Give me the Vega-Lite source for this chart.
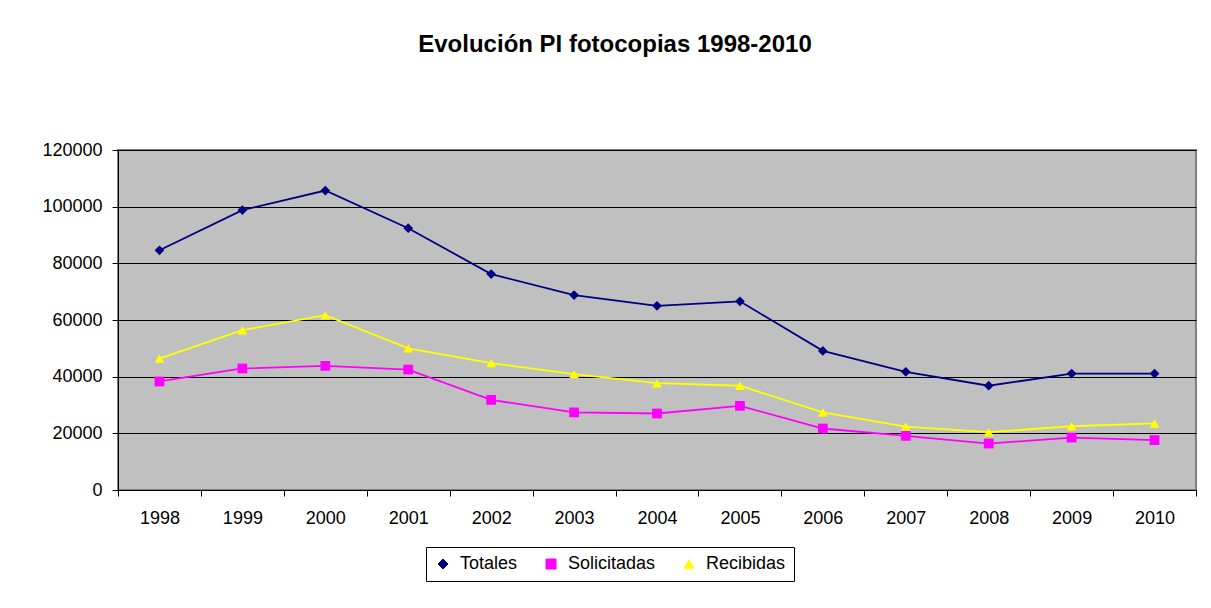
{
  "$schema": "https://vega.github.io/schema/vega-lite/v6.json",
  "width": 1078,
  "height": 340,
  "autosize": {"type": "none"},
  "padding": {"left": 118, "top": 150, "right": 15, "bottom": 118},
  "background": "white",
  "title": {
    "text": "Evolución PI fotocopias 1998-2010",
    "font": "Liberation Sans",
    "fontSize": 24,
    "fontWeight": "bold",
    "color": "black",
    "anchor": "middle",
    "baseline": "alphabetic",
    "dx": -42,
    "offset": 65
  },
  "config": {
    "view": {"fill": "#C0C0C0", "stroke": "#808080", "strokeWidth": 2},
    "font": "Liberation Sans"
  },
  "data": {
    "values": [
      {"year": "1998", "serie": "Totales", "valor": 84600},
      {"year": "1999", "serie": "Totales", "valor": 98800},
      {"year": "2000", "serie": "Totales", "valor": 105700},
      {"year": "2001", "serie": "Totales", "valor": 92400},
      {"year": "2002", "serie": "Totales", "valor": 76200},
      {"year": "2003", "serie": "Totales", "valor": 68800},
      {"year": "2004", "serie": "Totales", "valor": 65000},
      {"year": "2005", "serie": "Totales", "valor": 66600},
      {"year": "2006", "serie": "Totales", "valor": 49100},
      {"year": "2007", "serie": "Totales", "valor": 41700},
      {"year": "2008", "serie": "Totales", "valor": 36800},
      {"year": "2009", "serie": "Totales", "valor": 41100},
      {"year": "2010", "serie": "Totales", "valor": 41100},
      {"year": "1998", "serie": "Solicitadas", "valor": 38300},
      {"year": "1999", "serie": "Solicitadas", "valor": 42900},
      {"year": "2000", "serie": "Solicitadas", "valor": 43800},
      {"year": "2001", "serie": "Solicitadas", "valor": 42500},
      {"year": "2002", "serie": "Solicitadas", "valor": 31800},
      {"year": "2003", "serie": "Solicitadas", "valor": 27400},
      {"year": "2004", "serie": "Solicitadas", "valor": 27000},
      {"year": "2005", "serie": "Solicitadas", "valor": 29700},
      {"year": "2006", "serie": "Solicitadas", "valor": 21700},
      {"year": "2007", "serie": "Solicitadas", "valor": 19100},
      {"year": "2008", "serie": "Solicitadas", "valor": 16400},
      {"year": "2009", "serie": "Solicitadas", "valor": 18500},
      {"year": "2010", "serie": "Solicitadas", "valor": 17600},
      {"year": "1998", "serie": "Recibidas", "valor": 46400},
      {"year": "1999", "serie": "Recibidas", "valor": 56400},
      {"year": "2000", "serie": "Recibidas", "valor": 61700},
      {"year": "2001", "serie": "Recibidas", "valor": 50000},
      {"year": "2002", "serie": "Recibidas", "valor": 44800},
      {"year": "2003", "serie": "Recibidas", "valor": 40900},
      {"year": "2004", "serie": "Recibidas", "valor": 37700},
      {"year": "2005", "serie": "Recibidas", "valor": 36800},
      {"year": "2006", "serie": "Recibidas", "valor": 27400},
      {"year": "2007", "serie": "Recibidas", "valor": 22400},
      {"year": "2008", "serie": "Recibidas", "valor": 20400},
      {"year": "2009", "serie": "Recibidas", "valor": 22500},
      {"year": "2010", "serie": "Recibidas", "valor": 23500}
    ]
  },
  "encoding": {
    "x": {
      "field": "year",
      "type": "ordinal",
      "scale": {"type": "band", "paddingInner": 0, "paddingOuter": 0},
      "axis": {
        "title": null,
        "labelAngle": 0,
        "tickBand": "extent",
        "tickSize": 6,
        "labelFontSize": 18,
        "labelColor": "black",
        "labelPadding": 13,
        "domainColor": "black",
        "tickColor": "black",
        "grid": false
      }
    },
    "y": {
      "field": "valor",
      "type": "quantitative",
      "scale": {"domain": [0, 120000], "nice": false},
      "axis": {
        "title": null,
        "values": [0, 20000, 40000, 60000, 80000, 100000, 120000],
        "format": "d",
        "labelFontSize": 18,
        "labelColor": "black",
        "labelPadding": 10,
        "labelFlush": false,
        "labelOverlap": false,
        "tickSize": 6,
        "tickColor": "black",
        "domainColor": "black",
        "gridColor": "black",
        "gridOpacity": 1,
        "gridWidth": 1
      }
    },
    "color": {
      "field": "serie",
      "type": "nominal",
      "sort": ["Totales", "Solicitadas", "Recibidas"],
      "scale": {"domain": ["Totales", "Solicitadas", "Recibidas"], "range": ["#000080", "#FF00FF", "#FFFF00"]},
      "legend": {
        "title": null,
        "orient": "none",
        "legendX": 308,
        "legendY": 397,
        "direction": "horizontal",
        "strokeColor": "black",
        "fillColor": "white",
        "padding": 8,
        "symbolSize": 100,
        "labelFontSize": 18,
        "labelFont": "Liberation Sans",
        "labelColor": "black",
        "labelOffset": 8,
        "columnPadding": 24,
        "symbolStrokeWidth": 1,
        "symbolOpacity": 1
      }
    }
  },
  "layer": [
    {"mark": {"type": "line", "strokeWidth": 1.8}},
    {
      "mark": {"type": "point", "filled": true, "size": 95, "opacity": 1},
      "encoding": {
        "shape": {
          "field": "serie",
          "type": "nominal",
          "scale": {"domain": ["Totales", "Solicitadas", "Recibidas"], "range": ["diamond", "square", "triangle-up"]},
          "legend": null
        }
      }
    }
  ]
}
